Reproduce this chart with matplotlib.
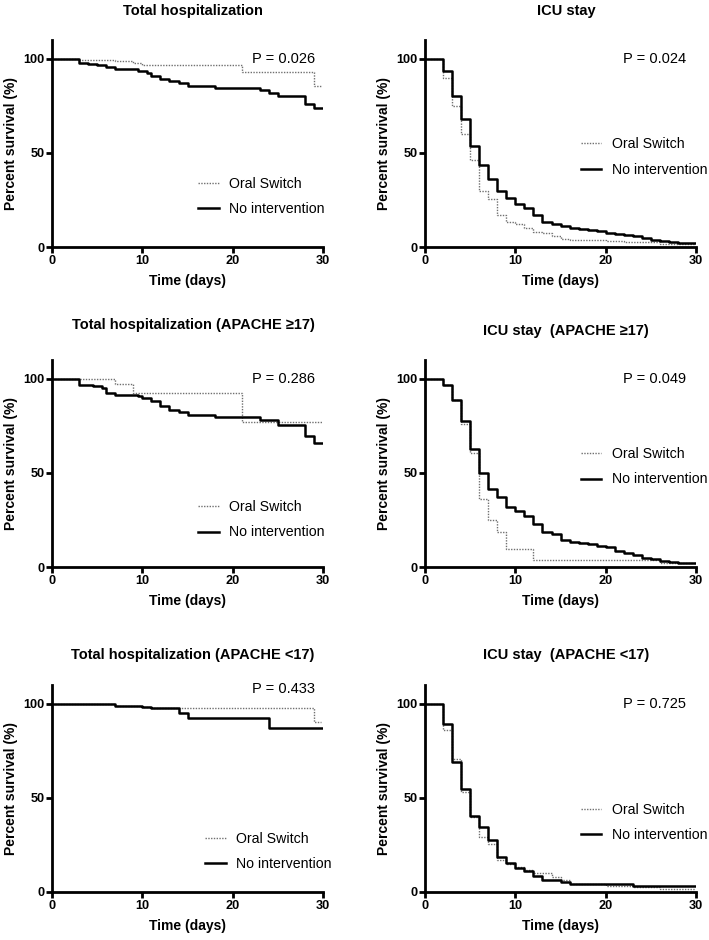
import matplotlib
matplotlib.use("Agg")
import matplotlib.pyplot as plt

plt.rcParams['font.family'] = ['Liberation Sans', 'DejaVu Sans']

# ---- data (time in days, percent survival) ----
# Total hospitalization
hosp_oral_t = [0, 3, 7, 9, 10, 21, 29, 29.8]
hosp_oral_v = [100, 99.5, 98.8, 97.8, 96.5, 92.9, 85.8, 85.8]
hosp_none_t = [0, 3, 4, 5, 6, 7, 9.5, 10.5, 11, 12, 13, 14, 15, 18, 23, 24, 25, 28, 29, 30]
hosp_none_v = [100, 98, 97.5, 96.5, 95.5, 94.5, 93.5, 92.5, 91, 89.5, 88.5, 87, 85.5, 84.5, 83.5, 82, 80, 76, 74, 74]

# ICU stay
icu_oral_t = [0, 2, 3, 4, 5, 6, 7, 8, 9, 10, 11, 12, 13, 14, 15, 16, 20, 22, 26, 30]
icu_oral_v = [100, 90, 75, 60, 46, 30, 25.5, 17, 13.5, 12.5, 10, 8, 7.5, 6, 4.5, 3.5, 3, 2.5, 1.5, 1.5]
icu_none_t = [0, 2, 3, 4, 5, 6, 7, 8, 9, 10, 11, 12, 13, 14, 15, 16, 17, 18, 19, 20, 21, 22, 23, 24, 25, 26, 27, 28, 30]
icu_none_v = [100, 93.5, 80.5, 68, 53.5, 43.5, 36, 30, 26, 23, 21, 17, 13.5, 12.5, 11, 10, 9.5, 9, 8.5, 7.5, 7, 6.5, 6, 5, 4, 3, 2.5, 2, 2]

# Total hospitalization (APACHE >=17)
hosp_hi_oral_t = [0, 7, 9, 21, 30]
hosp_hi_oral_v = [100, 97.3, 92.5, 77, 77]
hosp_hi_none_t = [0, 3, 4.5, 5.5, 6, 7, 9.5, 10, 11, 12, 13, 14, 15, 18, 23, 25, 28, 29, 30]
hosp_hi_none_v = [100, 96.5, 96, 95, 92.5, 91.5, 91, 90, 88, 85.5, 83.5, 82.5, 81, 79.5, 78, 75.5, 69.5, 66, 66]

# ICU stay (APACHE >=17)
icu_hi_oral_t = [0, 2, 3, 4, 5, 6, 7, 8, 9, 12, 26, 30]
icu_hi_oral_v = [100, 96.5, 88.5, 76, 60.5, 36, 25, 18.5, 9.5, 3.5, 2, 2]
icu_hi_none_t = [0, 2, 3, 4, 5, 6, 7, 8, 9, 10, 11, 12, 13, 14, 15, 16, 17, 18, 19, 20, 21, 22, 23, 24, 25, 26, 27, 28, 30]
icu_hi_none_v = [100, 96.5, 88.5, 77.5, 62.5, 50, 41.5, 37, 32, 29.5, 27, 23, 18.5, 17.5, 14.5, 13.5, 12.5, 12, 11, 10.5, 8.5, 7.5, 6.5, 5, 4, 3, 2.5, 2, 2]

# Total hospitalization (APACHE <17)
hosp_lo_oral_t = [0, 7, 10, 11, 29, 29.8]
hosp_lo_oral_v = [100, 99, 98.5, 97.9, 90.3, 90.3]
hosp_lo_none_t = [0, 7, 10, 11, 14, 15, 24, 30]
hosp_lo_none_v = [100, 99, 98.5, 97.5, 95, 92.5, 87, 87]

# ICU stay (APACHE <17)
icu_lo_oral_t = [0, 2, 3, 4, 5, 6, 7, 8, 9, 10, 11, 12, 14, 15, 16, 20, 23, 26, 30]
icu_lo_oral_v = [100, 86, 70.5, 53, 40, 29, 25.5, 17, 15, 13.5, 11.5, 10, 8, 6.5, 4, 3, 2.5, 1.5, 1.5]
icu_lo_none_t = [0, 2, 3, 4, 5, 6, 7, 8, 9, 10, 11, 12, 13, 15, 16, 23, 30]
icu_lo_none_v = [100, 89, 69, 54.5, 40.5, 34.5, 27.5, 18.5, 15.5, 12.5, 11, 8.5, 6.5, 5.5, 4, 3, 3]

titles = ["Total hospitalization", "ICU stay",
          "Total hospitalization (APACHE \u226517)", "ICU stay  (APACHE \u226517)",
          "Total hospitalization (APACHE <17)", "ICU stay  (APACHE <17)"]
p_values = ["P = 0.026", "P = 0.024", "P = 0.286", "P = 0.049", "P = 0.433", "P = 0.725"]
series = [
    (hosp_oral_t, hosp_oral_v, hosp_none_t, hosp_none_v),
    (icu_oral_t, icu_oral_v, icu_none_t, icu_none_v),
    (hosp_hi_oral_t, hosp_hi_oral_v, hosp_hi_none_t, hosp_hi_none_v),
    (icu_hi_oral_t, icu_hi_oral_v, icu_hi_none_t, icu_hi_none_v),
    (hosp_lo_oral_t, hosp_lo_oral_v, hosp_lo_none_t, hosp_lo_none_v),
    (icu_lo_oral_t, icu_lo_oral_v, icu_lo_none_t, icu_lo_none_v),
]

# layout (figure fractions)
lefts = [0.0733, 0.5994]
bottoms = [0.7372, 0.3968, 0.0511]
width, height = 0.3825, 0.2202
p_pos = [(29.1, 100), (28.9, 100), (29.1, 100), (28.9, 100), (29.1, 108), (28.9, 100)]
leg_pos = [(0.539, 0.245), (0.574, 0.435), (0.539, 0.228), (0.574, 0.484), (0.565, 0.195), (0.574, 0.335)]
title_y = [1.14, 1.14, 1.169, 1.14, 1.145, 1.145]

fig = plt.figure(figsize=(7.09, 9.40), dpi=100)

for i in range(6):
    ax = fig.add_axes([lefts[i % 2], bottoms[i // 2], width, height])
    ot, ov, nt, nv = series[i]
    ax.step(ot, ov, where='post', color='#707070', lw=1.0, ls=(0, (1, 1)), label='Oral Switch')
    ax.step(nt, nv, where='post', color='black', lw=1.8, label='No intervention')
    ax.set_xlim(0, 30)
    ax.set_ylim(0, 110)
    ax.set_xticks([0, 10, 20, 30])
    ax.set_yticks([0, 50, 100])
    for s in ['top', 'right']:
        ax.spines[s].set_visible(False)
    for s in ['left', 'bottom']:
        ax.spines[s].set_linewidth(2.0)
    ax.tick_params(width=2.0, length=4.5, labelsize=9.2, pad=1)
    for lab in ax.get_xticklabels() + ax.get_yticklabels():
        lab.set_fontweight('bold')
    ax.set_xlabel("Time (days)", fontsize=10, fontweight='bold', labelpad=5)
    ax.set_ylabel("Percent survival (%)", fontsize=10, fontweight='bold', labelpad=4)
    ax.text(0.52, title_y[i], titles[i], transform=ax.transAxes, fontsize=10.5,
            fontweight='bold', ha='center', va='center')
    ax.text(p_pos[i][0], p_pos[i][1], p_values[i], fontsize=10.5, ha='right', va='center')
    ax.legend(loc='center left', bbox_to_anchor=leg_pos[i], frameon=False, fontsize=10.2,
              borderpad=0, handlelength=1.45, handletextpad=0.75, labelspacing=0.8,
              borderaxespad=0)

fig.savefig("out.png", dpi=100)
